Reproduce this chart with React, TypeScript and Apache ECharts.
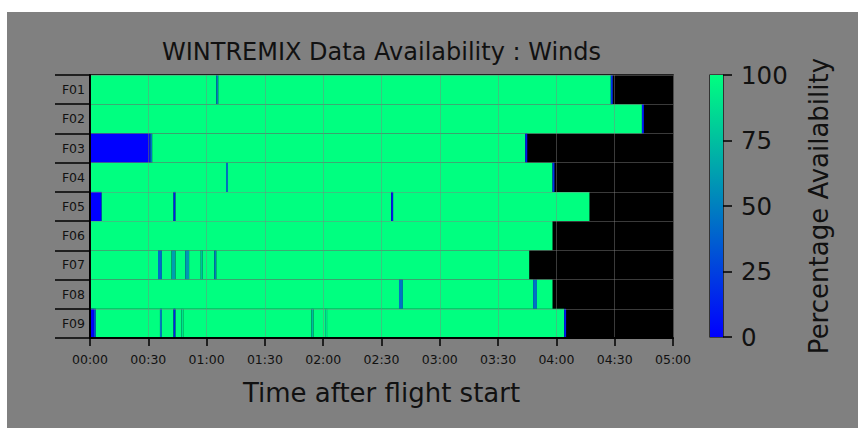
import React, { useEffect, useRef } from "react";
import * as echarts from "echarts";

// Flight names (rows, top to bottom)
const FLIGHTS = ["F01", "F02", "F03", "F04", "F05", "F06", "F07", "F08", "F09"];

// Availability runs per flight: [startMinute, endMinute, percent]; beyond the last run there is no data
const F01 = [[0, 65, 100], [65, 66, 50], [66, 268, 100], [268, 269, 20]];
const F02 = [[0, 284, 100], [284, 285, 10]];
const F03 = [[0, 30, 0], [30, 31, 8], [31, 32, 45], [32, 224, 100], [224, 225, 10]];
const F04 = [[0, 70, 100], [70, 71, 45], [71, 238, 100], [238, 239, 20]];
const F05 = [[0, 6, 0], [6, 43, 100], [43, 44, 12], [44, 155, 100], [155, 156, 10], [156, 257, 100]];
const F06 = [[0, 238, 100]];
const F07 = [[0, 35, 100], [35, 37, 42], [37, 42, 100], [42, 44, 62], [44, 49, 100], [49, 51, 60], [51, 57, 100], [57, 58, 75], [58, 64, 100], [64, 65, 50], [65, 226, 100]];
const F08 = [[0, 159, 100], [159, 161, 45], [161, 228, 100], [228, 230, 45], [230, 238, 100]];
const F09 = [[0, 2, 0], [2, 3, 28], [3, 36, 100], [36, 37, 48], [37, 43, 100], [43, 44, 15], [44, 47, 100], [47, 48, 88], [48, 114, 100], [114, 115, 72], [115, 121, 100], [121, 122, 88], [122, 244, 100], [244, 245, 10]];
const FLIGHT_RUNS = [F01, F02, F03, F04, F05, F06, F07, F08, F09];

// X axis: minutes after flight start
const X_MIN = 0;
const X_MAX = 300;
const X_STEP = 30;

// Colorbar ticks
const CB_MIN = 0;
const CB_MAX = 100;
const CB_STEP = 25;

const TITLE = "WINTREMIX Data Availability : Winds";
const X_NAME = "Time after flight start";
const CB_NAME = "Percentage Availability";

const FONT = "DejaVu Sans";

function fmtTime(v: number): string {
  const h = Math.floor(v / 60);
  const m = Math.round(v % 60);
  return String(h).padStart(2, "0") + ":" + String(m).padStart(2, "0");
}

export default function App() {
  const ref = useRef<HTMLDivElement>(null);

  useEffect(() => {
    if (!ref.current) return;
    const chart = echarts.init(ref.current, undefined, { renderer: "svg" });

    const data: number[][] = [];
    FLIGHT_RUNS.forEach((runs, row) => {
      runs.forEach((r) => data.push([r[0], r[1], row, r[2]]));
    });

    const gridLine = { color: "rgba(128,128,128,0.45)", width: 1 };

    const option: any = {
      animation: false,
      backgroundColor: "#808080",
      textStyle: { fontFamily: FONT },
      graphic: [
        {
          type: "text",
          x: 374.5,
          y: 40,
          style: {
            text: TITLE,
            font: `24px "${FONT}"`,
            fill: "#111",
            textAlign: "center",
            textVerticalAlign: "middle",
          },
        },
      ],
      grid: [
        { left: 83, top: 63, width: 583, height: 263, show: true, backgroundColor: "#000", borderColor: "#000", borderWidth: 1.5 },
        { left: 703, top: 63, width: 13, height: 262, show: true, backgroundColor: "transparent", borderColor: "#000", borderWidth: 1.2 },
      ],
      visualMap: {
        type: "continuous",
        show: false,
        min: CB_MIN,
        max: CB_MAX,
        dimension: 3,
        seriesIndex: 0,
        inRange: { color: ["#0000ff", "#00ff80"] },
      },
      xAxis: [
        {
          type: "value",
          gridIndex: 0,
          min: X_MIN,
          max: X_MAX,
          interval: X_STEP,
          z: 5,
          axisLine: { show: true, onZero: false, lineStyle: { color: "#000", width: 2 } },
          axisTick: { show: true, length: 8, lineStyle: { color: "#000", width: 1.5 } },
          axisLabel: { formatter: (v: number) => fmtTime(v), fontSize: 12.5, color: "#111", margin: 15, fontFamily: FONT },
          splitLine: { show: true, lineStyle: gridLine },
          name: X_NAME,
          nameLocation: "middle",
          nameGap: 42,
          nameTextStyle: { fontSize: 26, color: "#111", fontFamily: FONT },
        },
        { type: "category", gridIndex: 1, data: ["cb"], show: false },
      ],
      yAxis: [
        {
          type: "category",
          gridIndex: 0,
          data: FLIGHTS,
          inverse: true,
          z: 5,
          axisLine: { show: true, lineStyle: { color: "#000", width: 2 } },
          axisTick: { show: true, length: 35, lineStyle: { color: "#000", width: 1.5 } },
          axisLabel: { fontSize: 12.5, color: "#111", margin: 5, fontFamily: FONT },
          splitLine: { show: true, lineStyle: gridLine },
        },
        {
          type: "value",
          gridIndex: 1,
          min: CB_MIN,
          max: CB_MAX,
          interval: CB_STEP,
          position: "right",
          axisLine: { show: false },
          axisTick: { show: true, length: 9, lineStyle: { color: "#000", width: 1.5 } },
          axisLabel: { fontSize: 24.5, color: "#111", margin: 18, fontFamily: FONT },
          splitLine: { show: false },
          name: CB_NAME,
          nameLocation: "middle",
          nameGap: 83,
          nameTextStyle: { fontSize: 26, color: "#111", fontFamily: FONT },
        },
      ],
      series: [
        {
          type: "custom",
          xAxisIndex: 0,
          yAxisIndex: 0,
          encode: { x: [0, 1], y: 2 },
          data,
          renderItem: (params: any, api: any) => {
            const s = api.value(0);
            const e = api.value(1);
            const row = api.value(2);
            const p0 = api.coord([s, row]);
            const p1 = api.coord([e, row]);
            const h = api.size([0, 1])[1];
            return {
              type: "rect",
              shape: { x: p0[0], y: p0[1] - h / 2, width: p1[0] - p0[0], height: h },
              style: { fill: api.visual("color") },
            };
          },
        },
        {
          type: "bar",
          xAxisIndex: 1,
          yAxisIndex: 1,
          data: [CB_MAX],
          barWidth: "100%",
          silent: true,
          itemStyle: {
            color: new echarts.graphic.LinearGradient(0, 1, 0, 0, [
              { offset: 0, color: "#0000ff" },
              { offset: 1, color: "#00ff80" },
            ]),
          },
        },
      ],
    };

    chart.setOption(option);
    return () => chart.dispose();
  }, []);

  return (
    <div
      ref={ref}
      style={{ position: "absolute", left: 7, top: 12, width: 851, height: 416, background: "#808080" }}
    />
  );
}
